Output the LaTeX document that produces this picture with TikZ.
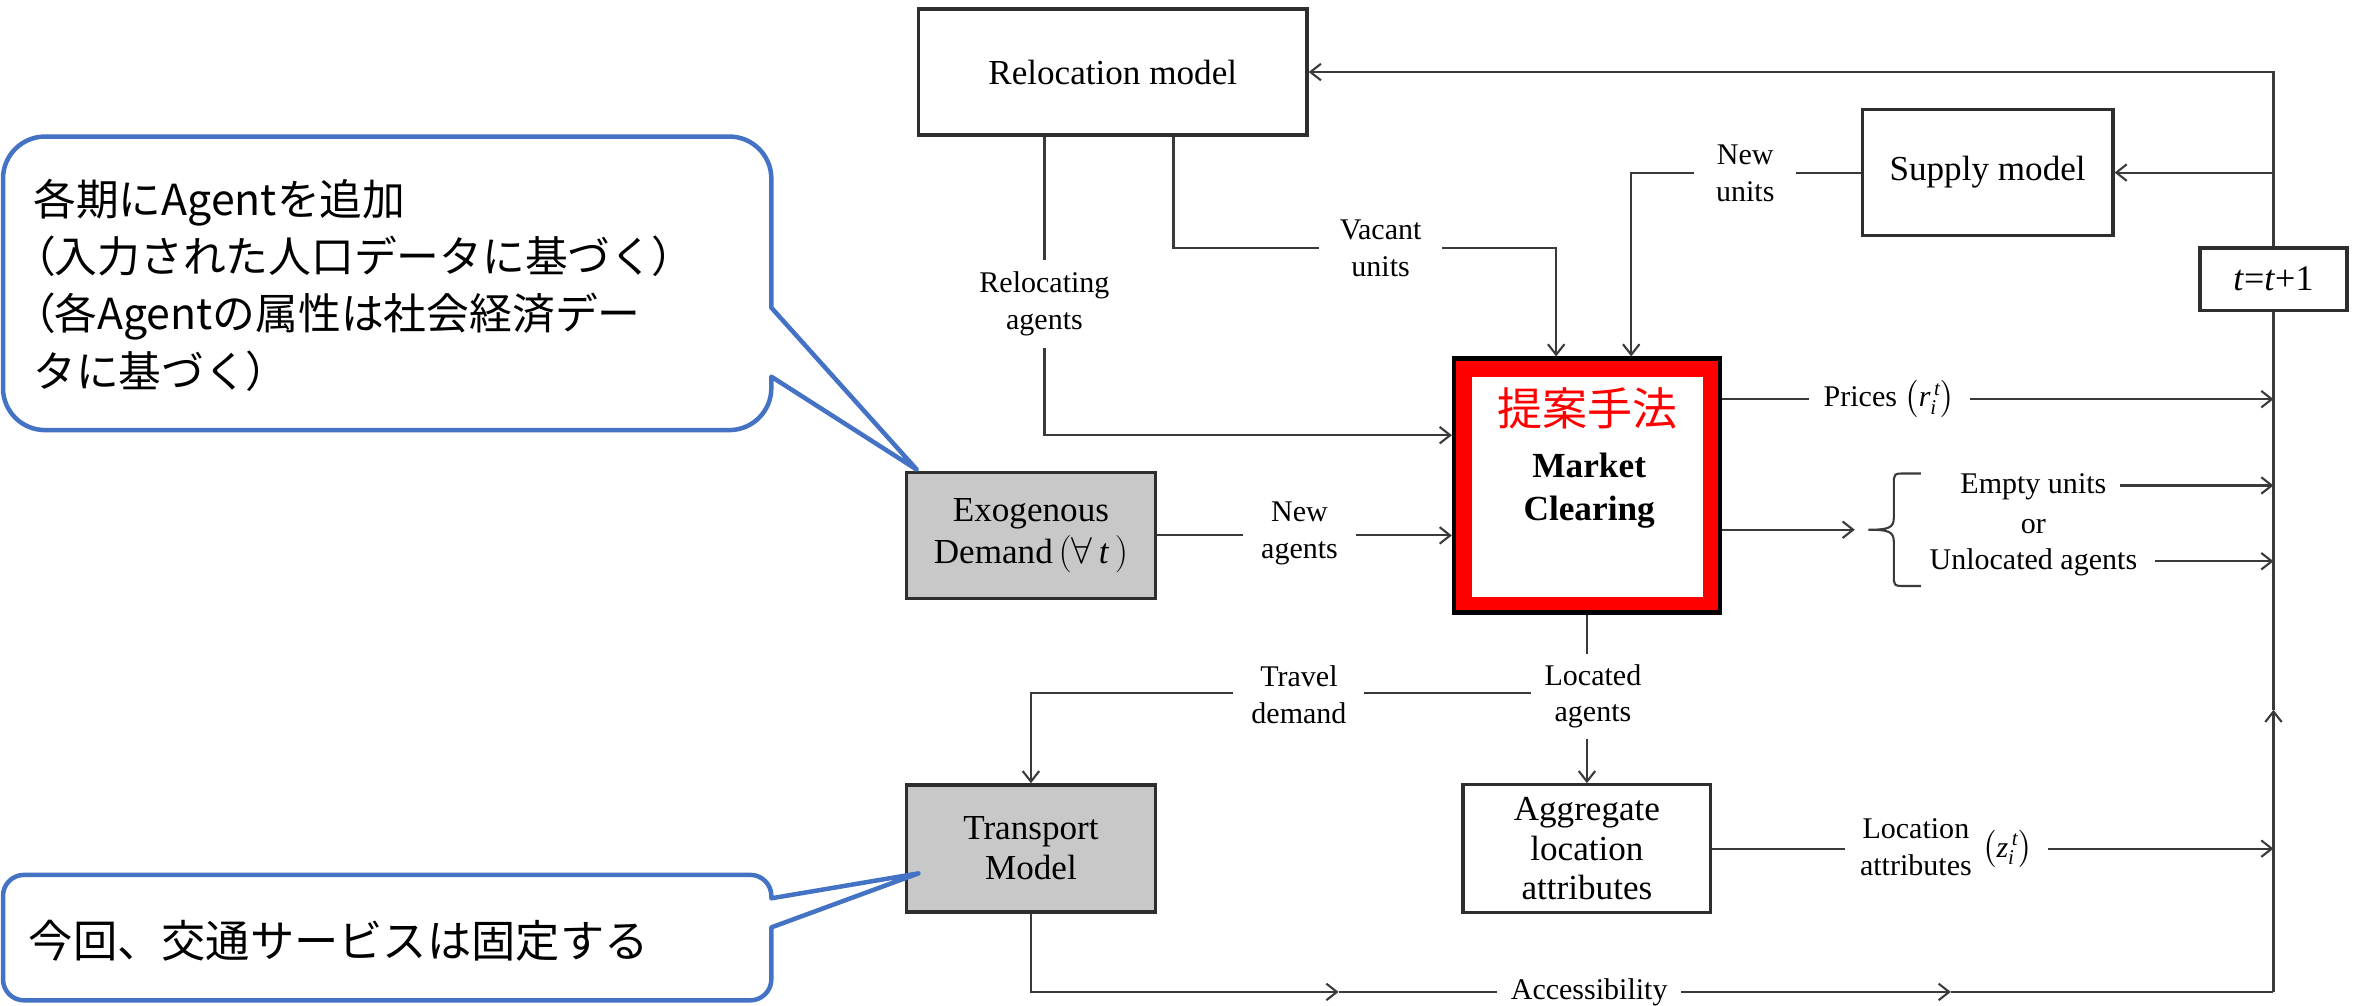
\documentclass[tikz,border=0pt]{standalone}
\usepackage{amsmath}
\usepackage{fontspec}
\setmainfont{Liberation Serif}
\newfontfamily\cjk{Noto Sans CJK JP}
\newfontfamily\cjkp[RawFeature=+palt]{Noto Sans CJK JP}
\usetikzlibrary{arrows.meta,calc}
\definecolor{linec}{HTML}{3A3A3A}
\definecolor{boxc}{HTML}{2E2E2E}
\definecolor{grayfill}{HTML}{C8C8C8}
\definecolor{callblue}{HTML}{4472C4}
\definecolor{pured}{HTML}{FF0000}
\tikzset{
  box/.style={draw=boxc, line width=2.2pt, fill=white, align=center, inner sep=0pt, font=\fontsize{23.4}{26.5}\selectfont},
  gbox/.style={box, fill=grayfill},
  lbl/.style={fill=white, align=center, inner xsep=10pt, inner ysep=8pt, font=\fontsize{20}{24.5}\selectfont},
  plain/.style={inner sep=0pt, font=\fontsize{20}{24.5}\selectfont},
  conn/.style={draw=linec, line width=1.4pt},
  arr/.style={conn, -{Straight Barb[length=7pt,width=11pt]}},
  callout/.style={draw=callblue, line width=3pt, fill=white, line join=round},
  cjktext/.style={align=left, inner sep=0pt, anchor=west},
}
\begin{document}
\begin{tikzpicture}[x=1pt,y=-1pt]
\useasboundingbox (0,0) rectangle (1568,670);

% ---- boxes
\node[box, minimum width=259pt, minimum height=84pt] (reloc) at (741.5,48) {Relocation model};
\node[box, minimum width=167pt, minimum height=84pt] (supply) at (1324.5,115) {Supply model};
\node[box, minimum width=98pt, minimum height=41.6pt, font=\fontsize{24}{28}\selectfont] (tt) at (1515,186) {\textit{t}=\textit{t}+1};
\node[draw=black, line width=3pt, fill=pured, minimum width=177pt, minimum height=169pt, inner sep=0pt] (mc) at (1057.5,323.5) {};
\fill[white] (981,251) rectangle (1135,398);
\node[text=pured, font=\cjk\fontsize{30}{30}\selectfont, inner sep=0pt] (teian) at (1058,272) {提案手法};
\node[font=\bfseries\fontsize{23.5}{29}\selectfont, align=center, inner sep=0pt] (mctext) at (1059,327) {Market\\Clearing};
\node[gbox, minimum width=166pt, minimum height=83.6pt, font=\fontsize{23.4}{28}\selectfont] (exo) at (687,356.8) {Exogenous\\Demand\,$(\forall\,\textit{t}\,)$};
\node[gbox, minimum width=166pt, minimum height=84.7pt] (trans) at (687,565.4) {Transport\\Model};
\node[box, minimum width=165pt, minimum height=85pt] (agg) at (1057.5,565.5) {Aggregate\\location\\attributes};

% ---- helper coordinates
\coordinate (rtop) at (1515,48);
\coordinate (rbot) at (1515,661);
\coordinate (rup) at (1515,473);
\coordinate (acc1) at (892,661);
\coordinate (acc2) at (1300,661);
\coordinate (brtip) at (1236,353);

% ---- connectors
\draw[arr] (tt.north) -- (rtop) -- (reloc.east);
\draw[arr] (supply.east -| rtop) -- (supply.east);
\draw[arr] (rbot) -- (rup);
\draw[conn] (rup) -- (tt.south);
\draw[arr] (trans.south) |- (acc1);
\draw[arr] (acc1) -- (acc2);
\draw[conn] (acc2) -- (rbot);
\draw[arr] (reloc.south -| 696,0) -- (696,290) -- (mc.west |- 0,290);
\draw[arr] (reloc.south -| 782,0) |- (1037,165) -- (mc.north -| 1037,0);
\draw[arr] (supply.west) -| (mc.north -| 1087,0);
\draw[arr] (exo.east) -- (mc.west |- exo.east);
\draw[arr] (mc.east |- 0,266) -- (rtop |- 0,266);
\draw[arr] (mc.east |- brtip) -- (brtip);
\draw[arr] (mc.south) -- (agg.north);
\draw[arr] (mc.south |- 0,462) -- (trans.north |- 0,462) -- (trans.north);
\draw[arr] (agg.east) -- (rtop |- agg.east);

% brace
\draw[conn] (1280,315.5) -- (1270,315.5) .. controls (1262,315.5) .. (1262,323) -- (1262,345)
  .. controls (1262,352) and (1258,353) .. (1245,353)
  .. controls (1258,353) and (1262,354) .. (1262,361) -- (1262,383)
  .. controls (1262,390.5) .. (1270,390.5) -- (1280,390.5);

% ---- outcome labels
\node[plain] (emp) at (1355,324.5) {Empty units};
\node[plain] (orl) at (1355,351) {or};
\node[plain] (unl) at (1355,375) {Unlocated agents};
\draw[arr] ($(emp.east)+(9,-1)$) -- (rtop |- 0,323.5);
\draw[arr] ($(unl.east)+(12,-1)$) -- (rtop |- 0,374);

% ---- connector labels
\node[lbl] (lrel) at (696,202.5) {Relocating\\agents};
\node[lbl, inner xsep=14pt] (lvac) at (920,165.5) {Vacant\\units};
\node[lbl, inner xsep=14.5pt] (lnu) at (1163,115.5) {New\\units};
\node[lbl, inner xsep=12pt] (lna) at (866,355.5) {New\\agents};
\node[lbl] (lpr) at (1259,266) {Prices $\bigl(\textit{r}_{\textit{i}}^{\,\textit{t}}\bigr)$};
\node[lbl, inner xsep=9pt, inner ysep=7pt] (lloc) at (1061.5,464) {Located\\agents};
\node[lbl, inner xsep=12pt] (ltr) at (865.6,463) {Travel\\demand};
\node[lbl] (lla) at (1297,566) {\begin{tabular}{@{}c@{}}Location\\attributes\end{tabular}\hspace{7pt}$\bigl(\textit{z}_{\textit{i}}^{\,\textit{t}}\bigr)$};
\node[lbl, inner xsep=9pt] (lacc) at (1059,661) {Accessibility};

% ---- callouts
\draw[callout] (2,190) [rounded corners=28pt] -- (2,91) -- (514,91) -- (514,150) [sharp corners] -- (514,205) -- (611,313) -- (514,251) [rounded corners=28pt] -- (514,286.6) -- (2,286.6) -- cycle;
\node[cjktext, font=\cjk\fontsize{28.5}{38.3}\selectfont] (c1) at (22,190) {各期にAgentを追加\\{\cjkp（}入力された人口データに基づく{\cjkp）}\\{\cjkp（}各Agentの属性は社会経済デー\\タに基づく{\cjkp）}};

\draw[callout] (2,625) [rounded corners=14pt] -- (2,583) -- (514,583) [sharp corners] -- (514,598.6) -- (612,582) -- (514,618) [rounded corners=14pt] -- (514,666.6) -- (2,666.6) -- cycle;
\node[cjktext, font=\cjk\fontsize{29.5}{35}\selectfont] (c2) at (19,627) {今回、交通サービスは固定する};
\end{tikzpicture}
\end{document}
